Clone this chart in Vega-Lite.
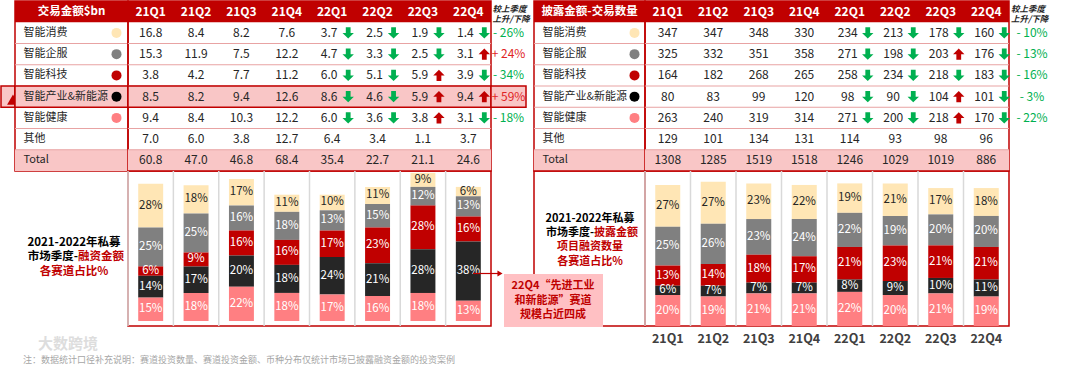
{
"$schema":"https://vega.github.io/schema/vega-lite/v6.json",
"padding":0,
"background":"white",
"columns":8,
"spacing":0,
"bounds":"flush",
"resolve":{"scale":{"color":"independent","shape":"independent","x":"independent","y":"independent"},"legend":{"color":"independent","shape":"independent"}},
"datasets":{
"rows":[{"row":"h"},{"row":"智能消费"},{"row":"智能企服"},{"row":"智能科技"},{"row":"智能产业&新能源"},{"row":"智能健康"},{"row":"其他"},{"row":"Total"}],
"quarters":[{"q":"21Q1"},{"q":"21Q2"},{"q":"21Q3"},{"q":"21Q4"},{"q":"22Q1"},{"q":"22Q2"},{"q":"22Q3"},{"q":"22Q4"}],
"amt":[
{"row":"智能消费","q":"21Q1","v":16.8},{"row":"智能消费","q":"21Q2","v":8.4},{"row":"智能消费","q":"21Q3","v":8.2},{"row":"智能消费","q":"21Q4","v":7.6},{"row":"智能消费","q":"22Q1","v":3.7,"d":"down"},{"row":"智能消费","q":"22Q2","v":2.5,"d":"down"},{"row":"智能消费","q":"22Q3","v":1.9,"d":"down"},{"row":"智能消费","q":"22Q4","v":1.4,"d":"down"},
{"row":"智能企服","q":"21Q1","v":15.3},{"row":"智能企服","q":"21Q2","v":11.9},{"row":"智能企服","q":"21Q3","v":7.5},{"row":"智能企服","q":"21Q4","v":12.2},{"row":"智能企服","q":"22Q1","v":4.7,"d":"down"},{"row":"智能企服","q":"22Q2","v":3.3,"d":"down"},{"row":"智能企服","q":"22Q3","v":2.5,"d":"down"},{"row":"智能企服","q":"22Q4","v":3.1,"d":"up"},
{"row":"智能科技","q":"21Q1","v":3.8},{"row":"智能科技","q":"21Q2","v":4.2},{"row":"智能科技","q":"21Q3","v":7.7},{"row":"智能科技","q":"21Q4","v":11.2},{"row":"智能科技","q":"22Q1","v":6.0,"d":"down"},{"row":"智能科技","q":"22Q2","v":5.1,"d":"down"},{"row":"智能科技","q":"22Q3","v":5.9,"d":"up"},{"row":"智能科技","q":"22Q4","v":3.9,"d":"down"},
{"row":"智能产业&新能源","q":"21Q1","v":8.5},{"row":"智能产业&新能源","q":"21Q2","v":8.2},{"row":"智能产业&新能源","q":"21Q3","v":9.4},{"row":"智能产业&新能源","q":"21Q4","v":12.6},{"row":"智能产业&新能源","q":"22Q1","v":8.6,"d":"down"},{"row":"智能产业&新能源","q":"22Q2","v":4.6,"d":"down"},{"row":"智能产业&新能源","q":"22Q3","v":5.9,"d":"up"},{"row":"智能产业&新能源","q":"22Q4","v":9.4,"d":"up"},
{"row":"智能健康","q":"21Q1","v":9.4},{"row":"智能健康","q":"21Q2","v":8.4},{"row":"智能健康","q":"21Q3","v":10.3},{"row":"智能健康","q":"21Q4","v":12.2},{"row":"智能健康","q":"22Q1","v":6.0,"d":"down"},{"row":"智能健康","q":"22Q2","v":3.6,"d":"down"},{"row":"智能健康","q":"22Q3","v":3.8,"d":"up"},{"row":"智能健康","q":"22Q4","v":3.1,"d":"down"},
{"row":"其他","q":"21Q1","v":7.0},{"row":"其他","q":"21Q2","v":6.0},{"row":"其他","q":"21Q3","v":3.8},{"row":"其他","q":"21Q4","v":12.7},{"row":"其他","q":"22Q1","v":6.4},{"row":"其他","q":"22Q2","v":3.4},{"row":"其他","q":"22Q3","v":1.1},{"row":"其他","q":"22Q4","v":3.7},
{"row":"Total","q":"21Q1","v":60.8},{"row":"Total","q":"21Q2","v":47.0},{"row":"Total","q":"21Q3","v":46.8},{"row":"Total","q":"21Q4","v":68.4},{"row":"Total","q":"22Q1","v":35.4},{"row":"Total","q":"22Q2","v":22.7},{"row":"Total","q":"22Q3","v":21.1},{"row":"Total","q":"22Q4","v":24.6}],
"cnt":[
{"row":"智能消费","q":"21Q1","v":347},{"row":"智能消费","q":"21Q2","v":347},{"row":"智能消费","q":"21Q3","v":348},{"row":"智能消费","q":"21Q4","v":330},{"row":"智能消费","q":"22Q1","v":234,"d":"down"},{"row":"智能消费","q":"22Q2","v":213,"d":"down"},{"row":"智能消费","q":"22Q3","v":178,"d":"down"},{"row":"智能消费","q":"22Q4","v":160,"d":"down"},
{"row":"智能企服","q":"21Q1","v":325},{"row":"智能企服","q":"21Q2","v":332},{"row":"智能企服","q":"21Q3","v":351},{"row":"智能企服","q":"21Q4","v":358},{"row":"智能企服","q":"22Q1","v":271,"d":"down"},{"row":"智能企服","q":"22Q2","v":198,"d":"down"},{"row":"智能企服","q":"22Q3","v":203,"d":"up"},{"row":"智能企服","q":"22Q4","v":176,"d":"down"},
{"row":"智能科技","q":"21Q1","v":164},{"row":"智能科技","q":"21Q2","v":182},{"row":"智能科技","q":"21Q3","v":268},{"row":"智能科技","q":"21Q4","v":265},{"row":"智能科技","q":"22Q1","v":258,"d":"down"},{"row":"智能科技","q":"22Q2","v":234,"d":"down"},{"row":"智能科技","q":"22Q3","v":218,"d":"down"},{"row":"智能科技","q":"22Q4","v":183,"d":"down"},
{"row":"智能产业&新能源","q":"21Q1","v":80},{"row":"智能产业&新能源","q":"21Q2","v":83},{"row":"智能产业&新能源","q":"21Q3","v":99},{"row":"智能产业&新能源","q":"21Q4","v":120},{"row":"智能产业&新能源","q":"22Q1","v":98,"d":"down"},{"row":"智能产业&新能源","q":"22Q2","v":90,"d":"down"},{"row":"智能产业&新能源","q":"22Q3","v":104,"d":"up"},{"row":"智能产业&新能源","q":"22Q4","v":101,"d":"down"},
{"row":"智能健康","q":"21Q1","v":263},{"row":"智能健康","q":"21Q2","v":240},{"row":"智能健康","q":"21Q3","v":319},{"row":"智能健康","q":"21Q4","v":314},{"row":"智能健康","q":"22Q1","v":271,"d":"down"},{"row":"智能健康","q":"22Q2","v":200,"d":"down"},{"row":"智能健康","q":"22Q3","v":218,"d":"up"},{"row":"智能健康","q":"22Q4","v":170,"d":"down"},
{"row":"其他","q":"21Q1","v":129},{"row":"其他","q":"21Q2","v":101},{"row":"其他","q":"21Q3","v":134},{"row":"其他","q":"21Q4","v":131},{"row":"其他","q":"22Q1","v":114},{"row":"其他","q":"22Q2","v":93},{"row":"其他","q":"22Q3","v":98},{"row":"其他","q":"22Q4","v":96},
{"row":"Total","q":"21Q1","v":1308},{"row":"Total","q":"21Q2","v":1285},{"row":"Total","q":"21Q3","v":1519},{"row":"Total","q":"21Q4","v":1518},{"row":"Total","q":"22Q1","v":1246},{"row":"Total","q":"22Q2","v":1029},{"row":"Total","q":"22Q3","v":1019},{"row":"Total","q":"22Q4","v":886}],
"amtChg":[{"row":"智能消费","c":"- 26%","d":"down"},{"row":"智能企服","c":"+ 24%","d":"up"},{"row":"智能科技","c":"- 34%","d":"down"},{"row":"智能产业&新能源","c":"+ 59%","d":"up"},{"row":"智能健康","c":"- 18%","d":"down"}],
"cntChg":[{"row":"智能消费","c":"- 10%","d":"down"},{"row":"智能企服","c":"- 13%","d":"down"},{"row":"智能科技","c":"- 16%","d":"down"},{"row":"智能产业&新能源","c":"- 3%","d":"down"},{"row":"智能健康","c":"- 22%","d":"down"}],
"amtPct":[
{"q":"21Q1","cat":"智能消费","p":28},{"q":"21Q1","cat":"智能企服","p":25},{"q":"21Q1","cat":"智能科技","p":6},{"q":"21Q1","cat":"智能产业&新能源","p":14},{"q":"21Q1","cat":"智能健康","p":15},
{"q":"21Q2","cat":"智能消费","p":18},{"q":"21Q2","cat":"智能企服","p":25},{"q":"21Q2","cat":"智能科技","p":9},{"q":"21Q2","cat":"智能产业&新能源","p":17},{"q":"21Q2","cat":"智能健康","p":18},
{"q":"21Q3","cat":"智能消费","p":17},{"q":"21Q3","cat":"智能企服","p":16},{"q":"21Q3","cat":"智能科技","p":16},{"q":"21Q3","cat":"智能产业&新能源","p":20},{"q":"21Q3","cat":"智能健康","p":22},
{"q":"21Q4","cat":"智能消费","p":11},{"q":"21Q4","cat":"智能企服","p":18},{"q":"21Q4","cat":"智能科技","p":16},{"q":"21Q4","cat":"智能产业&新能源","p":18},{"q":"21Q4","cat":"智能健康","p":18},
{"q":"22Q1","cat":"智能消费","p":10},{"q":"22Q1","cat":"智能企服","p":13},{"q":"22Q1","cat":"智能科技","p":17},{"q":"22Q1","cat":"智能产业&新能源","p":24},{"q":"22Q1","cat":"智能健康","p":17},
{"q":"22Q2","cat":"智能消费","p":11},{"q":"22Q2","cat":"智能企服","p":15},{"q":"22Q2","cat":"智能科技","p":23},{"q":"22Q2","cat":"智能产业&新能源","p":21},{"q":"22Q2","cat":"智能健康","p":16},
{"q":"22Q3","cat":"智能消费","p":9},{"q":"22Q3","cat":"智能企服","p":12},{"q":"22Q3","cat":"智能科技","p":28},{"q":"22Q3","cat":"智能产业&新能源","p":28},{"q":"22Q3","cat":"智能健康","p":18},
{"q":"22Q4","cat":"智能消费","p":6},{"q":"22Q4","cat":"智能企服","p":13},{"q":"22Q4","cat":"智能科技","p":16},{"q":"22Q4","cat":"智能产业&新能源","p":38},{"q":"22Q4","cat":"智能健康","p":13}],
"cntPct":[
{"q":"21Q1","cat":"智能消费","p":27},{"q":"21Q1","cat":"智能企服","p":25},{"q":"21Q1","cat":"智能科技","p":13},{"q":"21Q1","cat":"智能产业&新能源","p":6},{"q":"21Q1","cat":"智能健康","p":20},
{"q":"21Q2","cat":"智能消费","p":27},{"q":"21Q2","cat":"智能企服","p":26},{"q":"21Q2","cat":"智能科技","p":14},{"q":"21Q2","cat":"智能产业&新能源","p":7},{"q":"21Q2","cat":"智能健康","p":19},
{"q":"21Q3","cat":"智能消费","p":23},{"q":"21Q3","cat":"智能企服","p":23},{"q":"21Q3","cat":"智能科技","p":18},{"q":"21Q3","cat":"智能产业&新能源","p":7},{"q":"21Q3","cat":"智能健康","p":21},
{"q":"21Q4","cat":"智能消费","p":22},{"q":"21Q4","cat":"智能企服","p":24},{"q":"21Q4","cat":"智能科技","p":17},{"q":"21Q4","cat":"智能产业&新能源","p":7},{"q":"21Q4","cat":"智能健康","p":21},
{"q":"22Q1","cat":"智能消费","p":19},{"q":"22Q1","cat":"智能企服","p":22},{"q":"22Q1","cat":"智能科技","p":21},{"q":"22Q1","cat":"智能产业&新能源","p":8},{"q":"22Q1","cat":"智能健康","p":22},
{"q":"22Q2","cat":"智能消费","p":21},{"q":"22Q2","cat":"智能企服","p":19},{"q":"22Q2","cat":"智能科技","p":23},{"q":"22Q2","cat":"智能产业&新能源","p":9},{"q":"22Q2","cat":"智能健康","p":20},
{"q":"22Q3","cat":"智能消费","p":17},{"q":"22Q3","cat":"智能企服","p":20},{"q":"22Q3","cat":"智能科技","p":21},{"q":"22Q3","cat":"智能产业&新能源","p":10},{"q":"22Q3","cat":"智能健康","p":21},
{"q":"22Q4","cat":"智能消费","p":18},{"q":"22Q4","cat":"智能企服","p":20},{"q":"22Q4","cat":"智能科技","p":21},{"q":"22Q4","cat":"智能产业&新能源","p":11},{"q":"22Q4","cat":"智能健康","p":19}]
},
"concat":[
{"width":14,"height":170,"view":{"stroke":null},"data":{"name":"rows"},"layer":[
 {"transform":[{"filter":"datum.row === '智能产业&新能源'"}],"mark":{"type":"rect","fill":"#F9C6C6","stroke":"#C00000","strokeWidth":1.5},"encoding":{"y":{"field":"row","type":"nominal","scale":{"domain":["h","智能消费","智能企服","智能科技","智能产业&新能源","智能健康","其他","Total"],"paddingInner":0,"paddingOuter":0},"axis":null}}},
 {"transform":[{"filter":"datum.row === '智能产业&新能源'"}],"mark":{"type":"point","shape":"triangle-up","filled":true,"size":140,"color":"#C00000","opacity":1,"xOffset":5,"yOffset":3},"encoding":{"y":{"field":"row","type":"nominal","scale":{"domain":["h","智能消费","智能企服","智能科技","智能产业&新能源","智能健康","其他","Total"],"paddingInner":0,"paddingOuter":0},"axis":null}}}
]},
{"width":113,"height":170,"data":{"name":"rows"},"layer":[
 {"transform":[{"filter":"datum.row === 'h'"}],"mark":{"type":"rect","color":"#C00000"},"encoding":{"y":{"field":"row","type":"nominal","scale":{"domain":["h","智能消费","智能企服","智能科技","智能产业&新能源","智能健康","其他","Total"],"paddingInner":0,"paddingOuter":0},"axis":null}}},
 {"transform":[{"filter":"datum.row === 'Total'"}],"mark":{"type":"rect","color":"#F9C6C6"},"encoding":{"y":{"field":"row","type":"nominal","scale":{"domain":["h","智能消费","智能企服","智能科技","智能产业&新能源","智能健康","其他","Total"],"paddingInner":0,"paddingOuter":0},"axis":null}}},
 {"transform":[{"filter":"datum.row !== 'h' && datum.row !== '智能消费'"}],"mark":{"type":"rule","color":"#E8A3A3","strokeWidth":1},"encoding":{"y":{"field":"row","type":"nominal","bandPosition":0,"scale":{"domain":["h","智能消费","智能企服","智能科技","智能产业&新能源","智能健康","其他","Total"],"paddingInner":0,"paddingOuter":0},"axis":null}}},
 {"transform":[{"filter":"datum.row === '智能产业&新能源'"}],"mark":{"type":"rect","fill":"#F9C6C6","stroke":"#C00000","strokeWidth":1.5},"encoding":{"y":{"field":"row","type":"nominal","scale":{"domain":["h","智能消费","智能企服","智能科技","智能产业&新能源","智能健康","其他","Total"],"paddingInner":0,"paddingOuter":0},"axis":null}}},
 {"transform":[{"filter":"datum.row === 'h'"}],"mark":{"type":"text","text":"交易金额$bn","color":"#FFFFFF","fontWeight":"bold","fontSize":11.5},"encoding":{"y":{"field":"row","type":"nominal","scale":{"domain":["h","智能消费","智能企服","智能科技","智能产业&新能源","智能健康","其他","Total"],"paddingInner":0,"paddingOuter":0},"axis":null}}},
 {"transform":[{"filter":"datum.row !== 'h'"}],"mark":{"type":"text","align":"left","dx":-48,"color":"#262626","fontSize":11},"encoding":{"y":{"field":"row","type":"nominal","scale":{"domain":["h","智能消费","智能企服","智能科技","智能产业&新能源","智能健康","其他","Total"],"paddingInner":0,"paddingOuter":0},"axis":null},"text":{"field":"row"}}},
 {"transform":[{"filter":"indexof(['智能消费','智能企服','智能科技','智能产业&新能源','智能健康'], datum.row) >= 0"}],"mark":{"type":"point","filled":true,"size":100,"opacity":1,"xOffset":45},"encoding":{"y":{"field":"row","type":"nominal","scale":{"domain":["h","智能消费","智能企服","智能科技","智能产业&新能源","智能健康","其他","Total"],"paddingInner":0,"paddingOuter":0},"axis":null},"color":{"field":"row","type":"nominal","scale":{"domain":["智能消费","智能企服","智能科技","智能产业&新能源","智能健康"],"range":["#FFE6B5","#808080","#C00000","#000000","#FF7F82"]},"legend":null}}}
]},
{"width":363,"height":170,"data":{"name":"amt"},"layer":[
 {"data":{"name":"rows"},"transform":[{"filter":"datum.row === 'h'"}],"mark":{"type":"rect","color":"#C00000"},"encoding":{"x":{"value":0},"x2":{"value":"width"},"y":{"field":"row","type":"nominal","scale":{"domain":["h","智能消费","智能企服","智能科技","智能产业&新能源","智能健康","其他","Total"],"paddingInner":0,"paddingOuter":0},"axis":null}}},
 {"data":{"name":"rows"},"transform":[{"filter":"datum.row === 'Total'"}],"mark":{"type":"rect","color":"#F9C6C6"},"encoding":{"x":{"value":0},"x2":{"value":"width"},"y":{"field":"row","type":"nominal","scale":{"domain":["h","智能消费","智能企服","智能科技","智能产业&新能源","智能健康","其他","Total"],"paddingInner":0,"paddingOuter":0},"axis":null}}},
 {"data":{"name":"rows"},"transform":[{"filter":"datum.row !== 'h' && datum.row !== '智能消费'"}],"mark":{"type":"rule","color":"#E8A3A3","strokeWidth":1},"encoding":{"x":{"value":0},"x2":{"value":"width"},"y":{"field":"row","type":"nominal","bandPosition":0,"scale":{"domain":["h","智能消费","智能企服","智能科技","智能产业&新能源","智能健康","其他","Total"],"paddingInner":0,"paddingOuter":0},"axis":null}}},
 {"data":{"name":"rows"},"transform":[{"filter":"datum.row === '智能产业&新能源'"}],"mark":{"type":"rect","fill":"#F9C6C6","stroke":"#C00000","strokeWidth":1.5},"encoding":{"x":{"value":0},"x2":{"value":"width"},"y":{"field":"row","type":"nominal","scale":{"domain":["h","智能消费","智能企服","智能科技","智能产业&新能源","智能健康","其他","Total"],"paddingInner":0,"paddingOuter":0},"axis":null}}},
 {"data":{"name":"quarters"},"mark":{"type":"text","color":"#FFFFFF","fontWeight":"bold","fontSize":12},"encoding":{"x":{"field":"q","type":"ordinal","scale":{"domain":["21Q1","21Q2","21Q3","21Q4","22Q1","22Q2","22Q3","22Q4"],"paddingInner":0,"paddingOuter":0},"axis":null},"y":{"datum":"h","type":"nominal","scale":{"domain":["h","智能消费","智能企服","智能科技","智能产业&新能源","智能健康","其他","Total"],"paddingInner":0,"paddingOuter":0},"axis":null},"text":{"field":"q"}}},
 {"transform":[{"filter":"!datum.d"}],"mark":{"type":"text","color":"#262626","fontSize":12},"encoding":{"x":{"field":"q","type":"ordinal","scale":{"domain":["21Q1","21Q2","21Q3","21Q4","22Q1","22Q2","22Q3","22Q4"],"paddingInner":0,"paddingOuter":0},"axis":null},"y":{"field":"row","type":"nominal","scale":{"domain":["h","智能消费","智能企服","智能科技","智能产业&新能源","智能健康","其他","Total"],"paddingInner":0,"paddingOuter":0},"axis":null},"text":{"field":"v","format":".1f"}}},
 {"transform":[{"filter":"datum.d"}],"mark":{"type":"text","color":"#262626","fontSize":12,"dx":-3},"encoding":{"x":{"field":"q","type":"ordinal","scale":{"domain":["21Q1","21Q2","21Q3","21Q4","22Q1","22Q2","22Q3","22Q4"],"paddingInner":0,"paddingOuter":0},"axis":null},"y":{"field":"row","type":"nominal","scale":{"domain":["h","智能消费","智能企服","智能科技","智能产业&新能源","智能健康","其他","Total"],"paddingInner":0,"paddingOuter":0},"axis":null},"text":{"field":"v","format":".1f"}}},
 {"transform":[{"filter":"datum.d"}],"mark":{"type":"point","filled":true,"size":130,"opacity":1,"strokeWidth":0,"xOffset":16},"encoding":{"x":{"field":"q","type":"ordinal","scale":{"domain":["21Q1","21Q2","21Q3","21Q4","22Q1","22Q2","22Q3","22Q4"],"paddingInner":0,"paddingOuter":0},"axis":null},"y":{"field":"row","type":"nominal","scale":{"domain":["h","智能消费","智能企服","智能科技","智能产业&新能源","智能健康","其他","Total"],"paddingInner":0,"paddingOuter":0},"axis":null},"shape":{"field":"d","type":"nominal","scale":{"domain":["up","down"],"range":["M-0.42,1H0.42V0H1L0,-1L-1,0H-0.42Z","M-0.42,-1H0.42V0H1L0,1L-1,0H-0.42Z"]},"legend":null},"color":{"field":"d","type":"nominal","scale":{"domain":["up","down"],"range":["#C00000","#00B050"]},"legend":null}}}
]},
{"width":35,"height":170,"view":{"stroke":null},"data":{"name":"amtChg"},"layer":[
 {"data":{"name":"rows"},"transform":[{"filter":"datum.row === '智能产业&新能源'"}],"mark":{"type":"rect","fill":"#F9C6C6","stroke":"#C00000","strokeWidth":1.5},"encoding":{"y":{"field":"row","type":"nominal","scale":{"domain":["h","智能消费","智能企服","智能科技","智能产业&新能源","智能健康","其他","Total"],"paddingInner":0,"paddingOuter":0},"axis":null}}},
 {"data":{"name":"rows"},"transform":[{"filter":"datum.row === 'h'"}],"mark":{"type":"text","text":"较上季度\n上升/下降","lineBreak":"\n","lineHeight":10,"align":"left","dx":-16,"dy":-3,"fontSize":8.5,"fontStyle":"italic","fontWeight":"bold","color":"#262626"},"encoding":{"y":{"field":"row","type":"nominal","scale":{"domain":["h","智能消费","智能企服","智能科技","智能产业&新能源","智能健康","其他","Total"],"paddingInner":0,"paddingOuter":0},"axis":null}}},
 {"mark":{"type":"text","fontSize":12},"encoding":{"y":{"field":"row","type":"nominal","scale":{"domain":["h","智能消费","智能企服","智能科技","智能产业&新能源","智能健康","其他","Total"],"paddingInner":0,"paddingOuter":0},"axis":null},"text":{"field":"c"},"color":{"field":"d","type":"nominal","scale":{"domain":["up","down"],"range":["#E02424","#00B050"]},"legend":null}}}
]},
{"width":8,"height":170,"view":{"stroke":null},"data":{"values":[{}]},"mark":{"type":"text","text":""},"encoding":{}},
{"width":111,"height":170,"data":{"name":"rows"},"layer":[
 {"transform":[{"filter":"datum.row === 'h'"}],"mark":{"type":"rect","color":"#C00000"},"encoding":{"y":{"field":"row","type":"nominal","scale":{"domain":["h","智能消费","智能企服","智能科技","智能产业&新能源","智能健康","其他","Total"],"paddingInner":0,"paddingOuter":0},"axis":null}}},
 {"transform":[{"filter":"datum.row === 'Total'"}],"mark":{"type":"rect","color":"#F9C6C6"},"encoding":{"y":{"field":"row","type":"nominal","scale":{"domain":["h","智能消费","智能企服","智能科技","智能产业&新能源","智能健康","其他","Total"],"paddingInner":0,"paddingOuter":0},"axis":null}}},
 {"transform":[{"filter":"datum.row !== 'h' && datum.row !== '智能消费'"}],"mark":{"type":"rule","color":"#E8A3A3","strokeWidth":1},"encoding":{"y":{"field":"row","type":"nominal","bandPosition":0,"scale":{"domain":["h","智能消费","智能企服","智能科技","智能产业&新能源","智能健康","其他","Total"],"paddingInner":0,"paddingOuter":0},"axis":null}}},
 {"transform":[{"filter":"datum.row === 'h'"}],"mark":{"type":"text","text":"披露金额-交易数量","color":"#FFFFFF","fontWeight":"bold","fontSize":11.5},"encoding":{"y":{"field":"row","type":"nominal","scale":{"domain":["h","智能消费","智能企服","智能科技","智能产业&新能源","智能健康","其他","Total"],"paddingInner":0,"paddingOuter":0},"axis":null}}},
 {"transform":[{"filter":"datum.row !== 'h'"}],"mark":{"type":"text","align":"left","dx":-47,"color":"#262626","fontSize":11},"encoding":{"y":{"field":"row","type":"nominal","scale":{"domain":["h","智能消费","智能企服","智能科技","智能产业&新能源","智能健康","其他","Total"],"paddingInner":0,"paddingOuter":0},"axis":null},"text":{"field":"row"}}},
 {"transform":[{"filter":"indexof(['智能消费','智能企服','智能科技','智能产业&新能源','智能健康'], datum.row) >= 0"}],"mark":{"type":"point","filled":true,"size":100,"opacity":1,"xOffset":45},"encoding":{"y":{"field":"row","type":"nominal","scale":{"domain":["h","智能消费","智能企服","智能科技","智能产业&新能源","智能健康","其他","Total"],"paddingInner":0,"paddingOuter":0},"axis":null},"color":{"field":"row","type":"nominal","scale":{"domain":["智能消费","智能企服","智能科技","智能产业&新能源","智能健康"],"range":["#FFE6B5","#808080","#C00000","#000000","#FF7F82"]},"legend":null}}}
]},
{"width":364,"height":170,"data":{"name":"cnt"},"layer":[
 {"data":{"name":"rows"},"transform":[{"filter":"datum.row === 'h'"}],"mark":{"type":"rect","color":"#C00000"},"encoding":{"x":{"value":0},"x2":{"value":"width"},"y":{"field":"row","type":"nominal","scale":{"domain":["h","智能消费","智能企服","智能科技","智能产业&新能源","智能健康","其他","Total"],"paddingInner":0,"paddingOuter":0},"axis":null}}},
 {"data":{"name":"rows"},"transform":[{"filter":"datum.row === 'Total'"}],"mark":{"type":"rect","color":"#F9C6C6"},"encoding":{"x":{"value":0},"x2":{"value":"width"},"y":{"field":"row","type":"nominal","scale":{"domain":["h","智能消费","智能企服","智能科技","智能产业&新能源","智能健康","其他","Total"],"paddingInner":0,"paddingOuter":0},"axis":null}}},
 {"data":{"name":"rows"},"transform":[{"filter":"datum.row !== 'h' && datum.row !== '智能消费'"}],"mark":{"type":"rule","color":"#E8A3A3","strokeWidth":1},"encoding":{"x":{"value":0},"x2":{"value":"width"},"y":{"field":"row","type":"nominal","bandPosition":0,"scale":{"domain":["h","智能消费","智能企服","智能科技","智能产业&新能源","智能健康","其他","Total"],"paddingInner":0,"paddingOuter":0},"axis":null}}},
 {"data":{"name":"quarters"},"mark":{"type":"text","color":"#FFFFFF","fontWeight":"bold","fontSize":12},"encoding":{"x":{"field":"q","type":"ordinal","scale":{"domain":["21Q1","21Q2","21Q3","21Q4","22Q1","22Q2","22Q3","22Q4"],"paddingInner":0,"paddingOuter":0},"axis":null},"y":{"datum":"h","type":"nominal","scale":{"domain":["h","智能消费","智能企服","智能科技","智能产业&新能源","智能健康","其他","Total"],"paddingInner":0,"paddingOuter":0},"axis":null},"text":{"field":"q"}}},
 {"transform":[{"filter":"!datum.d"}],"mark":{"type":"text","color":"#262626","fontSize":12},"encoding":{"x":{"field":"q","type":"ordinal","scale":{"domain":["21Q1","21Q2","21Q3","21Q4","22Q1","22Q2","22Q3","22Q4"],"paddingInner":0,"paddingOuter":0},"axis":null},"y":{"field":"row","type":"nominal","scale":{"domain":["h","智能消费","智能企服","智能科技","智能产业&新能源","智能健康","其他","Total"],"paddingInner":0,"paddingOuter":0},"axis":null},"text":{"field":"v","format":"d"}}},
 {"transform":[{"filter":"datum.d"}],"mark":{"type":"text","color":"#262626","fontSize":12,"dx":-2},"encoding":{"x":{"field":"q","type":"ordinal","scale":{"domain":["21Q1","21Q2","21Q3","21Q4","22Q1","22Q2","22Q3","22Q4"],"paddingInner":0,"paddingOuter":0},"axis":null},"y":{"field":"row","type":"nominal","scale":{"domain":["h","智能消费","智能企服","智能科技","智能产业&新能源","智能健康","其他","Total"],"paddingInner":0,"paddingOuter":0},"axis":null},"text":{"field":"v","format":"d"}}},
 {"transform":[{"filter":"datum.d"}],"mark":{"type":"point","filled":true,"size":130,"opacity":1,"strokeWidth":0,"xOffset":18},"encoding":{"x":{"field":"q","type":"ordinal","scale":{"domain":["21Q1","21Q2","21Q3","21Q4","22Q1","22Q2","22Q3","22Q4"],"paddingInner":0,"paddingOuter":0},"axis":null},"y":{"field":"row","type":"nominal","scale":{"domain":["h","智能消费","智能企服","智能科技","智能产业&新能源","智能健康","其他","Total"],"paddingInner":0,"paddingOuter":0},"axis":null},"shape":{"field":"d","type":"nominal","scale":{"domain":["up","down"],"range":["M-0.42,1H0.42V0H1L0,-1L-1,0H-0.42Z","M-0.42,-1H0.42V0H1L0,1L-1,0H-0.42Z"]},"legend":null},"color":{"field":"d","type":"nominal","scale":{"domain":["up","down"],"range":["#C00000","#00B050"]},"legend":null}}}
]},
{"width":70,"height":170,"view":{"stroke":null},"data":{"name":"cntChg"},"layer":[
 {"data":{"name":"rows"},"transform":[{"filter":"datum.row === 'h'"}],"mark":{"type":"text","text":"较上季度\n上升/下降","lineBreak":"\n","lineHeight":10,"align":"left","dx":-33,"dy":-3,"fontSize":8.5,"fontStyle":"italic","fontWeight":"bold","color":"#262626"},"encoding":{"y":{"field":"row","type":"nominal","scale":{"domain":["h","智能消费","智能企服","智能科技","智能产业&新能源","智能健康","其他","Total"],"paddingInner":0,"paddingOuter":0},"axis":null}}},
 {"mark":{"type":"text","fontSize":12,"dx":-12},"encoding":{"y":{"field":"row","type":"nominal","scale":{"domain":["h","智能消费","智能企服","智能科技","智能产业&新能源","智能健康","其他","Total"],"paddingInner":0,"paddingOuter":0},"axis":null},"text":{"field":"c"},"color":{"field":"d","type":"nominal","scale":{"domain":["up","down"],"range":["#E02424","#00B050"]},"legend":null}}}
]},
{"width":14,"height":155,"view":{"stroke":null},"data":{"values":[{}]},"mark":{"type":"text","text":""},"encoding":{}},
{"width":113,"height":155,"data":{"values":[{}]},"layer":[
 {"mark":{"type":"text","text":"2021-2022年私募","fontSize":11.5,"fontWeight":"bold","color":"#000000","dx":2.5,"dy":-6},"encoding":{}},
 {"mark":{"type":"text","text":"市场季度-","align":"right","fontSize":11.5,"fontWeight":"bold","color":"#000000","dx":6.5,"dy":8},"encoding":{}},
 {"mark":{"type":"text","text":"融资金额","align":"left","fontSize":11.5,"fontWeight":"bold","color":"#C00000","dx":6.5,"dy":8},"encoding":{}},
 {"mark":{"type":"text","text":"各赛道占比%","fontSize":11.5,"fontWeight":"bold","color":"#C00000","dx":2.5,"dy":23},"encoding":{}}
]},
{"width":363,"height":155,"data":{"name":"amtPct"},"layer":[
 {"data":{"name":"quarters"},"mark":{"type":"rule","color":"#D9D9D9","strokeWidth":1.5},"encoding":{"x":{"field":"q","type":"ordinal","bandPosition":0,"scale":{"domain":["21Q1","21Q2","21Q3","21Q4","22Q1","22Q2","22Q3","22Q4"],"paddingInner":0,"paddingOuter":0},"axis":null},"y":{"value":0},"y2":{"value":"height"}}},
 {"transform":[{"calculate":"indexof(['智能健康','智能产业&新能源','智能科技','智能企服','智能消费'], datum.cat)","as":"ord"},{"window":[{"op":"sum","field":"p","as":"top"}],"groupby":["q"],"sort":[{"field":"ord","order":"ascending"}]},{"calculate":"datum.top - datum.p","as":"bot"}],
  "mark":{"type":"bar","width":{"band":0.55}},"encoding":{"x":{"field":"q","type":"ordinal","scale":{"domain":["21Q1","21Q2","21Q3","21Q4","22Q1","22Q2","22Q3","22Q4"],"paddingInner":0,"paddingOuter":0},"axis":null},"y":{"field":"top","type":"quantitative","scale":{"domain":[-3.2,96.2],"nice":false,"zero":false},"axis":null},"y2":{"field":"bot"},"color":{"field":"cat","type":"nominal","scale":{"domain":["智能消费","智能企服","智能科技","智能产业&新能源","智能健康"],"range":["#FFE6B5","#808080","#C00000","#262626","#FF7F82"]},"legend":null}}},
 {"transform":[{"calculate":"indexof(['智能健康','智能产业&新能源','智能科技','智能企服','智能消费'], datum.cat)","as":"ord"},{"window":[{"op":"sum","field":"p","as":"top"}],"groupby":["q"],"sort":[{"field":"ord","order":"ascending"}]},{"calculate":"datum.top - datum.p / 2","as":"mid"},{"calculate":"datum.p + '%'","as":"lbl"}],
  "mark":{"type":"text","fontSize":11.5},"encoding":{"x":{"field":"q","type":"ordinal","scale":{"domain":["21Q1","21Q2","21Q3","21Q4","22Q1","22Q2","22Q3","22Q4"],"paddingInner":0,"paddingOuter":0},"axis":null},"y":{"field":"mid","type":"quantitative","scale":{"domain":[-3.2,96.2],"nice":false,"zero":false},"axis":null},"text":{"field":"lbl"},"color":{"condition":{"test":"datum.cat === '智能消费'","value":"#262626"},"value":"#FFFFFF"}}}
]},
{"width":35,"height":155,"view":{"stroke":null},"data":{"values":[{}]},"mark":{"type":"text","text":""},"encoding":{}},
{"width":8,"height":155,"view":{"stroke":null},"data":{"values":[{}]},"mark":{"type":"text","text":""},"encoding":{}},
{"width":111,"height":155,"data":{"values":[{}]},"layer":[
 {"mark":{"type":"text","text":"2021-2022年私募","fontSize":11,"fontWeight":"bold","color":"#000000","dx":0.5,"dy":-29.5},"encoding":{}},
 {"mark":{"type":"text","text":"市场季度-","align":"right","fontSize":11,"fontWeight":"bold","color":"#000000","dx":4.5,"dy":-15.5},"encoding":{}},
 {"mark":{"type":"text","text":"披露金额","align":"left","fontSize":11,"fontWeight":"bold","color":"#C00000","dx":4.5,"dy":-15.5},"encoding":{}},
 {"mark":{"type":"text","text":"项目融资数量","fontSize":11,"fontWeight":"bold","color":"#C00000","dx":0.5,"dy":-1.5},"encoding":{}},
 {"mark":{"type":"text","text":"各赛道占比%","fontSize":11,"fontWeight":"bold","color":"#C00000","dx":0.5,"dy":13},"encoding":{}},
 {"mark":{"type":"rect","color":"#FFC0C3"},"encoding":{"x":{"value":-30},"x2":{"value":69},"y":{"value":103},"y2":{"value":156}}},
 {"mark":{"type":"text","text":"22Q4“先进工业\n和新能源”赛道\n规模占近四成","lineBreak":"\n","lineHeight":14.5,"fontSize":11,"fontWeight":"bold","color":"#C00000","dx":-36.5,"dy":37.5},"encoding":{}},
 {"mark":{"type":"rule","color":"#C00000","strokeWidth":1.2},"encoding":{"x":{"value":-61},"x2":{"value":-36},"y":{"value":102.5}}},
 {"mark":{"type":"point","shape":"triangle-right","filled":true,"size":35,"color":"#C00000","opacity":1},"encoding":{"x":{"value":-34},"y":{"value":102.5}}}
]},
{"width":364,"height":155,"data":{"name":"cntPct"},"layer":[
 {"transform":[{"calculate":"indexof(['智能健康','智能产业&新能源','智能科技','智能企服','智能消费'], datum.cat)","as":"ord"},{"window":[{"op":"sum","field":"p","as":"top"}],"groupby":["q"],"sort":[{"field":"ord","order":"ascending"}]},{"calculate":"datum.top - datum.p","as":"bot"}],
  "mark":{"type":"bar","width":{"band":0.55}},"encoding":{"x":{"field":"q","type":"ordinal","scale":{"domain":["21Q1","21Q2","21Q3","21Q4","22Q1","22Q2","22Q3","22Q4"],"paddingInner":0,"paddingOuter":0},"axis":{"title":null,"domain":false,"ticks":false,"grid":false,"bandPosition":0.5,"labelAngle":0,"labelAlign":"center","labelPadding":6,"labelFontSize":12.5,"labelFontWeight":"bold","labelColor":"#404040"}},"y":{"field":"top","type":"quantitative","scale":{"domain":[0,100],"nice":false,"zero":false},"axis":null},"y2":{"field":"bot"},"color":{"field":"cat","type":"nominal","scale":{"domain":["智能消费","智能企服","智能科技","智能产业&新能源","智能健康"],"range":["#FFE6B5","#808080","#C00000","#262626","#FF7F82"]},"legend":null}}},
 {"data":{"name":"quarters"},"mark":{"type":"rule","color":"#D9D9D9","strokeWidth":1.5},"encoding":{"x":{"field":"q","type":"ordinal","bandPosition":0,"scale":{"domain":["21Q1","21Q2","21Q3","21Q4","22Q1","22Q2","22Q3","22Q4"],"paddingInner":0,"paddingOuter":0}},"y":{"value":0},"y2":{"value":"height"}}},
 {"transform":[{"calculate":"indexof(['智能健康','智能产业&新能源','智能科技','智能企服','智能消费'], datum.cat)","as":"ord"},{"window":[{"op":"sum","field":"p","as":"top"}],"groupby":["q"],"sort":[{"field":"ord","order":"ascending"}]},{"calculate":"datum.top - datum.p / 2","as":"mid"},{"calculate":"datum.p + '%'","as":"lbl"}],
  "mark":{"type":"text","fontSize":11.5},"encoding":{"x":{"field":"q","type":"ordinal","scale":{"domain":["21Q1","21Q2","21Q3","21Q4","22Q1","22Q2","22Q3","22Q4"],"paddingInner":0,"paddingOuter":0}},"y":{"field":"mid","type":"quantitative","scale":{"domain":[0,100],"nice":false,"zero":false},"axis":null},"text":{"field":"lbl"},"color":{"condition":{"test":"datum.cat === '智能消费'","value":"#262626"},"value":"#FFFFFF"}}}
]},
{"width":70,"height":155,"view":{"stroke":null},"data":{"values":[{}]},"mark":{"type":"text","text":""},"encoding":{}},
{"width":14,"height":47,"view":{"stroke":null},"data":{"values":[{}]},"layer":[
 {"mark":{"type":"text","text":"注：数据统计口径补充说明：赛道投资数量、赛道投资金额、币种分布仅统计市场已披露融资金额的投资案例","align":"left","dx":15,"dy":10,"fontSize":9,"color":"#A6A6A6"},"encoding":{}},
 {"mark":{"type":"text","text":"大数跨境","align":"left","dx":30,"dy":-6,"fontSize":15,"fontWeight":"bold","color":"#C8C8C8","opacity":0.6},"encoding":{}}
]}
],
"config":{
 "font":"Noto Sans CJK SC",
 "view":{"stroke":"#C00000","strokeWidth":1.5},
 "text":{"font":"Noto Sans CJK SC"},
 "axis":{"labelFont":"Noto Sans CJK SC"}
}
}
